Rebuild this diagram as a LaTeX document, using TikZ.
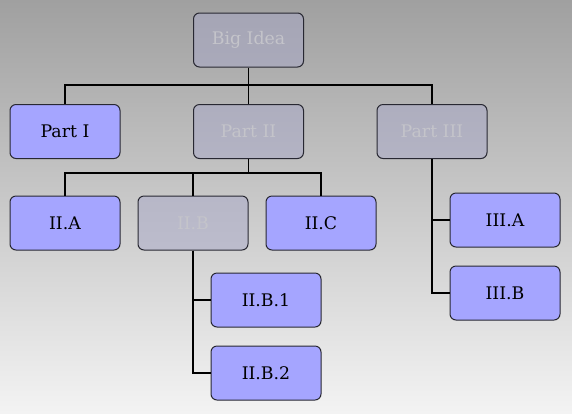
\documentclass[tikz,border=0pt]{standalone}
\usepackage{fontspec}
\setmainfont{DejaVu Serif}
\usetikzlibrary{calc}
\definecolor{bluefill}{RGB}{165,165,255}
\definecolor{grayfill}{RGB}{168,168,200}
\definecolor{graytext}{RGB}{196,196,202}
\definecolor{edgecol}{RGB}{40,40,50}
\begin{document}
\begin{tikzpicture}[x=0.6pt,y=-0.6pt,
  box/.style={draw=edgecol,line width=0.6pt,rounded corners=3.6pt,minimum width=66pt,minimum height=32.4pt,inner sep=0pt,font=\fontsize{10.4}{12}\selectfont},
  activebox/.style={box,fill=bluefill,text=black},
  dimbox/.style={box,fill=grayfill,fill opacity=0.5,text opacity=1,text=graytext},
  link/.style={draw=black,line width=0.8pt}]
\shade[top color={rgb,255:red,160;green,160;blue,160},bottom color={rgb,255:red,243;green,243;blue,243}] (0,0) rectangle (572,413);
\useasboundingbox (0,0) rectangle (572,413);
\node[dimbox] (big) at (248.5,40) {Big Idea};
\node[activebox] (p1) at (65,131.5) {Part I};
\node[dimbox] (p2) at (248.5,131.5) {Part II};
\node[dimbox] (p3) at (432,131.5) {Part III};
\node[activebox] (iia) at (65,223) {II.A};
\node[dimbox] (iib) at (193,223) {II.B};
\node[activebox] (iic) at (321,223) {II.C};
\node[activebox] (iiia) at (505,220) {III.A};
\node[activebox] (iiib) at (505,293) {III.B};
\node[activebox] (iib1) at (266,300) {II.B.1};
\node[activebox] (iib2) at (266,373) {II.B.2};
% top level
\coordinate (j1) at (248.5,85);
\draw[link] (big.south) -- (j1);
\draw[link] (j1) -| (p1.north);
\draw[link] (j1) -- (p2.north);
\draw[link] (j1) -| (p3.north);
% Part II children
\coordinate (j2) at (248.5,173);
\draw[link] (p2.south) -- (j2);
\draw[link] (j2) -| (iia.north);
\draw[link] (j2) -| (iib.north);
\draw[link] (j2) -| (iic.north);
% II.B children
\draw[link] (iib.south) |- (iib2.west);
\draw[link] (iib.south) |- (iib1.west);
% Part III children
\draw[link] (p3.south) |- (iiib.west);
\draw[link] (p3.south) |- (iiia.west);
\end{tikzpicture}
\end{document}
